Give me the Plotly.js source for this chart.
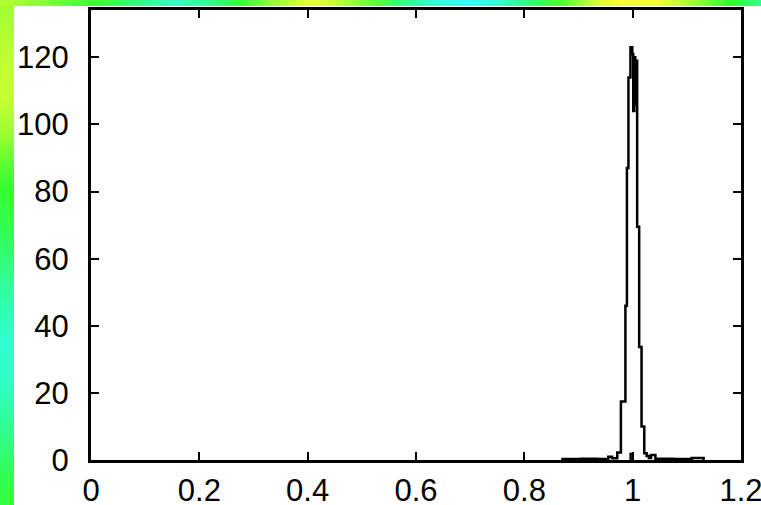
<!DOCTYPE html>
<html>
<head>
<meta charset="utf-8">
<script src="https://cdn.plot.ly/plotly-3.0.1.min.js"></script>
<style>
  html, body { margin: 0; padding: 0; }
  #wrap {
    position: relative; width: 761px; height: 505px; overflow: hidden;
    background:
      linear-gradient(to right, #b4ff30 0px, #8cff30 40px, #40ff30 90px, #30ff70 130px, #30ffb0 160px, #30ffc8 175px, #30ff90 210px, #30ff40 240px, #90ff30 270px, #e8ff30 310px, #d0ff30 330px, #70ff30 370px, #30ff70 395px, #30ffd0 430px, #30ffff 470px, #30ffd0 500px, #30ff60 540px, #50ff30 560px, #e0ff30 600px, #ffff30 625px, #f0ff30 660px, #90ff30 700px, #30ff30 730px, #30ff90 761px) top left / 761px 6px no-repeat,
      linear-gradient(to bottom, #a0ff30 0px, #c0ff30 60px, #c8ff30 100px, #90ff30 140px, #50ff30 170px, #30ff30 190px, #30ff60 240px, #30ffa0 290px, #30ffd0 340px, #30ffc8 380px, #30ff90 430px, #30ff50 480px, #30ff40 505px) top left / 14px 505px no-repeat,
      #ffffff;
  }
  #chart { position: absolute; left: 0; top: 0; width: 761px; height: 505px; }
</style>
</head>
<body>
<div id="wrap"><div id="chart"></div></div>
<script>
// Histogram: left edge of each step and its height
const binLeft = [0.868, 0.905, 0.935, 0.955, 0.962, 0.9716, 0.9783, 0.9866, 0.9894, 0.9922, 0.9959,
                 0.9993, 1.0011, 1.0030, 1.0048, 1.0066, 1.0083, 1.0120, 1.0164, 1.0214, 1.0258,
                 1.030, 1.034, 1.042, 1.075, 1.109, 1.131];
const counts  = [0.3, 0.4, 0.3, 1.0, 0.5, 2.2, 17.4, 46, 87, 114, 123,
                 121, 104, 120, 106, 119, 69.5, 33.7, 10, 2, 1.2,
                 0.6, 1.5, 0.4, 0.3, 0.6, 0];
// small isolated spike near x = 1
const spikeX = [0.9963, 0.9963];
const spikeY = [0, 2.2];

const xTicks = [0, 0.2, 0.4, 0.6, 0.8, 1, 1.2];
const yTicks = [0, 20, 40, 60, 80, 100, 120];

const font = {family: 'Liberation Sans, Arial, sans-serif', size: 31, color: '#000'};

const traces = [
  {x: binLeft, y: counts, type: 'scatter', mode: 'lines',
   line: {shape: 'hv', color: '#000', width: 2.5}, hoverinfo: 'x+y'},
  {x: spikeX, y: spikeY, type: 'scatter', mode: 'lines',
   line: {color: '#000', width: 2.5}}
];

const layout = {
  width: 761, height: 505,
  margin: {l: 91, r: 20, t: 10, b: 45},
  paper_bgcolor: 'rgba(0,0,0,0)',
  plot_bgcolor: '#ffffff',
  showlegend: false,
  xaxis: {
    range: [0, 1.2], tickvals: xTicks, ticktext: xTicks.map(String),
    showgrid: false, zeroline: false,
    showline: true, linecolor: '#000', linewidth: 3, mirror: 'ticks',
    ticks: 'inside', ticklen: 8, tickwidth: 2, tickcolor: '#000',
    tickfont: font, ticklabelstandoff: 1, ticklabeloverflow: 'allow'
  },
  yaxis: {
    range: [0, 134.1], tickvals: yTicks, ticktext: yTicks.map(String),
    showgrid: false, zeroline: false,
    showline: true, linecolor: '#000', linewidth: 3, mirror: 'ticks',
    ticks: 'inside', ticklen: 8, tickwidth: 2, tickcolor: '#000',
    tickfont: font, ticklabelstandoff: 13, ticklabeloverflow: 'allow'
  }
};

Plotly.newPlot('chart', traces, layout, {displayModeBar: false, staticPlot: true});
</script>
</body>
</html>
